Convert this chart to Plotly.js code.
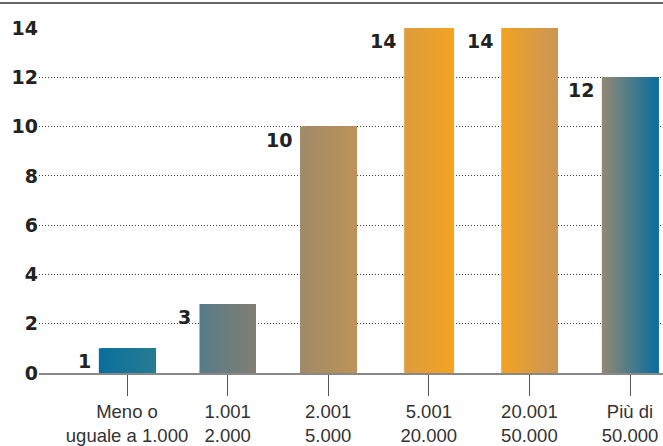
<!DOCTYPE html>
<html>
<head>
<meta charset="utf-8">
<script src="https://cdn.plot.ly/plotly-3.0.1.min.js"></script>
<style>html,body{margin:0;padding:0;background:#fff}#chart{width:663px;height:446px}</style>
</head>
<body>
<div id="chart"></div>
<script>
// ---- data ----
const categories = ["Meno o<br>uguale a 1.000", "1.001<br>2.000", "2.001<br>5.000", "5.001<br>20.000", "20.001<br>50.000", "Più di<br>50.000"];
const values = [1, 2.8, 10, 14, 14, 12];
const valueLabels = ["1", "3", "10", "14", "14", "12"];
const yTickValues = [0, 2, 4, 6, 8, 10, 12, 14];

// ---- style ----
const leftColors  = ["#0a6f9e", "#587c89", "#a08969", "#db9b3f", "#f2a224", "#938974"];
const rightColors = ["#277c92", "#817e74", "#bd9358", "#f5a321", "#cb9655", "#096e9f"];
const barWidths = [0.56, 0.56, 0.56, 0.49, 0.56, 0.56];
const N = 24;
const pxPerCat = 100.6;

function hex2rgb(h){ return [parseInt(h.slice(1,3),16), parseInt(h.slice(3,5),16), parseInt(h.slice(5,7),16)]; }
function mix(a, b, t){
  const A = hex2rgb(a), B = hex2rgb(b);
  return "rgb(" + A.map((v,i)=>Math.round(v + (B[i]-v)*t)).join(",") + ")";
}

const traces = [];
for (let k = 0; k < N; k++) {
  const t = (k + 0.5) / N;
  traces.push({
    type: "bar",
    x: categories,
    y: values,
    offset: barWidths.map(w => -w/2 + k*w/N),
    width: barWidths.map(w => w - k*w/N),
    marker: { color: categories.map((c,i) => mix(leftColors[i], rightColors[i], t)), line: {width: 0} },
    hoverinfo: "skip",
    showlegend: false
  });
}

const annotations = categories.map((c, i) => ({
  x: c, y: values[i], xref: "x", yref: "y",
  text: valueLabels[i],
  showarrow: false,
  xanchor: "right", yanchor: "top",
  xshift: -(barWidths[i] * pxPerCat / 2 + 6),
  yshift: 0,
  font: { family: "DejaVu Sans", size: 19, color: "#222", weight: "bold" }
}));

const layout = {
  width: 663, height: 446,
  margin: { l: 39, r: 0, t: 28, b: 73 },
  paper_bgcolor: "#fff", plot_bgcolor: "#fff",
  barmode: "overlay",
  showlegend: false,
  xaxis: {
    type: "category",
    range: [-0.875, 5.328],
    showgrid: false,
    showline: true, linecolor: "#888", linewidth: 1.5,
    ticks: "outside", ticklen: 21, tickcolor: "#555", tickwidth: 1,
    tickfont: { family: "Liberation Sans, Arial, sans-serif", size: 18.5, color: "#333" },
    zeroline: false
  },
  yaxis: {
    range: [0, 14],
    tickvals: yTickValues,
    ticktext: yTickValues.map(String),
    showgrid: true, gridcolor: "#444", gridwidth: 1, griddash: "1px,2px",
    zeroline: false, showline: false,
    ticks: "",
    tickfont: { family: "DejaVu Sans", size: 19, color: "#222", weight: "bold" }
  },
  shapes: [{
    type: "line", xref: "paper", yref: "paper",
    x0: -0.07, x1: 1.01, y0: 1.0725, y1: 1.0725,
    line: { color: "#666", width: 2 }
  }],
  annotations: annotations
};

Plotly.newPlot("chart", traces, layout, { displayModeBar: false, staticPlot: true });
</script>
</body>
</html>
